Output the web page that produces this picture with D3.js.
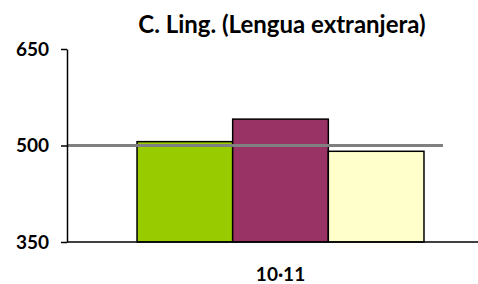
<!DOCTYPE html>
<html>
<head>
<meta charset="utf-8">
<script src="https://cdn.jsdelivr.net/npm/d3@7"></script>
<style>
  body { margin: 0; background: #fff; }
  text { font-family: Lato, "Open Sans", sans-serif; font-weight: bold; fill: #000; }
</style>
</head>
<body>
<div class="chart"></div>
<script>
var categories = ["10·11"];
var series = ["A", "B", "C"];
var values = [506, 541, 491];
var colorsList = ["#99cc00", "#993366", "#ffffcc"];
var yTicks = [350, 500, 650];
var refValue = 500;

var width = 478;
var height = 284;

var svg = d3.select(".chart").append("svg")
    .attr("width", width)
    .attr("height", height);

var y = d3.scaleLinear()
    .domain([350, 650])
    .range([242, 49]);

var x = d3.scaleBand()
    .domain(categories)
    .range([67, 494])
    .paddingInner(0)
    .paddingOuter(0.244);

var xs = d3.scaleBand()
    .domain(series)
    .range([0, x.bandwidth()]);

var colors = d3.scaleOrdinal().domain(series).range(colorsList);

// bars
svg.selectAll("rect.bar")
    .data(values)
    .enter().append("rect")
    .attr("class", "bar")
    .attr("x", function(d, i) { return x(categories[0]) + xs(series[i]); })
    .attr("y", function(d) { return y(d); })
    .attr("width", xs.bandwidth())
    .attr("height", function(d) { return y(350) - y(d); })
    .attr("fill", function(d, i) { return colors(series[i]); })
    .attr("stroke", "#000")
    .attr("stroke-width", 1.5);

// reference line
svg.append("line")
    .attr("x1", 67)
    .attr("x2", 443)
    .attr("y1", y(refValue))
    .attr("y2", y(refValue))
    .attr("stroke", "#808080")
    .attr("stroke-width", 3);

// y axis
var yAxis = svg.append("g")
    .attr("transform", "translate(67,0)")
    .call(d3.axisLeft(y).tickValues(yTicks).tickSize(6).tickPadding(12).tickSizeOuter(0));
yAxis.select(".domain").attr("stroke", "#000").attr("stroke-width", 1.5);
yAxis.selectAll(".tick line").attr("stroke", "#000").attr("stroke-width", 1.5);
yAxis.selectAll(".tick text")
    .style("font-size", "19px")
    .attr("fill", "#000");

// x axis
var xAxis = svg.append("g")
    .attr("transform", "translate(0," + y(350) + ")")
    .call(d3.axisBottom(x).tickSize(0).tickPadding(26).tickSizeOuter(0));
xAxis.select(".domain").attr("d", "M67,0H478").attr("stroke", "#000").attr("stroke-width", 1.5);
xAxis.selectAll(".tick text")
    .style("font-size", "19px")
    .attr("fill", "#000");

// title
svg.append("text")
    .attr("x", 282)
    .attr("y", 33)
    .attr("text-anchor", "middle")
    .style("font-size", "24px")
    .text("C. Ling. (Lengua extranjera)");
</script>
</body>
</html>
